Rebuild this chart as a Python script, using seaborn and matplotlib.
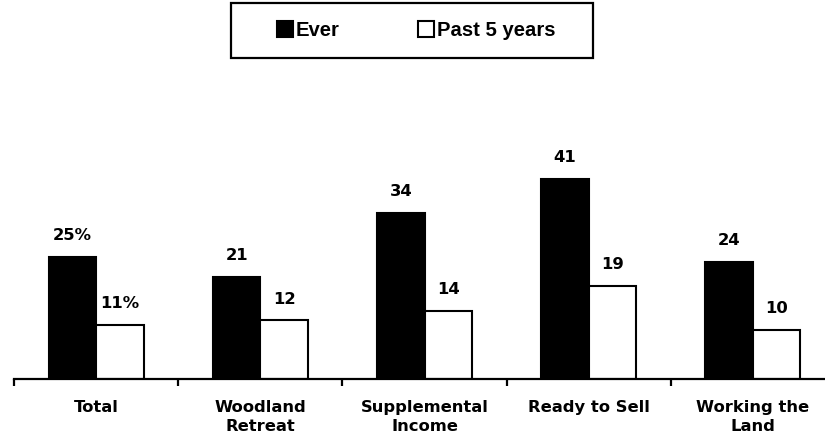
import matplotlib
matplotlib.use("Agg")
import matplotlib.pyplot as plt
import seaborn as sns
import pandas as pd
from matplotlib.patches import Rectangle
from matplotlib.ticker import FixedLocator

categories = ["Total", "Woodland\nRetreat", "Supplemental\nIncome", "Ready to Sell", "Working the\nLand"]
ever = [25, 21, 34, 41, 24]
past5 = [11, 12, 14, 19, 10]
ever_labels = ["25%", "21", "34", "41", "24"]
past5_labels = ["11%", "12", "14", "19", "10"]
series = ["Ever", "Past 5 years"]

df = pd.DataFrame({
    "category": categories * 2,
    "series": [series[0]] * 5 + [series[1]] * 5,
    "value": ever + past5,
})

sns.set_theme(style="white")
plt.rcParams["font.family"] = ["DejaVu Sans"]
plt.rcParams["text.color"] = "black"

W, H = 825, 444
fig = plt.figure(figsize=(W / 100, H / 100), dpi=100)
base_y = 379
top_y = 100
ax = fig.add_axes([14 / W, (H - base_y) / H, 821 / W, (base_y - top_y) / H])

sns.barplot(data=df, x="category", y="value", hue="series", order=categories,
            hue_order=series, palette={"Ever": "black", "Past 5 years": "white"},
            edgecolor="black", linewidth=1.5, width=0.578, saturation=1,
            errorbar=None, ax=ax, legend=True)

handles, labels = ax.get_legend_handles_labels()
ax.get_legend().remove()

ax.set_xlim(-0.5, 4.5)
ax.set_ylim(0, (base_y - top_y) / 4.88)

for cont, labs in zip(ax.containers, [ever_labels, past5_labels]):
    ax.bar_label(cont, labels=labs, padding=10, fontsize=11.8, fontweight="bold", color="black")

for s in ["left", "right", "top"]:
    ax.spines[s].set_visible(False)
ax.spines["bottom"].set_linewidth(1.6)
ax.spines["bottom"].set_color("black")
ax.set_yticks([])
ax.set_xlabel("")
ax.set_ylabel("")

ax.tick_params(axis="x", which="major", length=0, pad=15, labelsize=11.8, labelcolor="black")
for t in ax.get_xticklabels():
    t.set_fontweight("bold")
    t.set_linespacing(1.35)
ax.xaxis.set_minor_locator(FixedLocator([-0.5, 0.5, 1.5, 2.5, 3.5, 4.5]))
ax.tick_params(axis="x", which="minor", length=5, width=1.6, color="black", direction="out", bottom=True)

# legend box
fig.patches.append(Rectangle((231 / W, 1 - 58 / H), 362 / W, 55 / H, transform=fig.transFigure,
                             fill=False, edgecolor="black", linewidth=1.6, zorder=5))
leg = fig.legend(handles, labels, loc="center", bbox_to_anchor=(416 / W, 1 - 30.5 / H),
                 ncol=2, frameon=False, handlelength=0.8, handleheight=0.8,
                 handletextpad=0.12, columnspacing=3.9, labelcolor="black",
                 prop={"family": "Liberation Sans", "weight": "bold", "size": 14.6})
for h in leg.legend_handles:
    h.set_edgecolor("black")
    h.set_linewidth(1.5)

fig.savefig("out.png", dpi=100)
